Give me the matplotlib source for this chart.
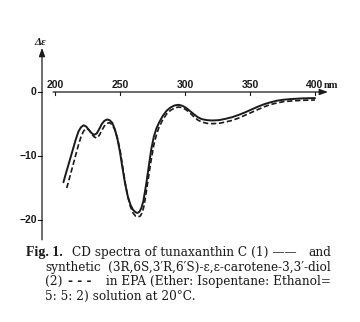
import matplotlib.pyplot as plt

# CD spectra, wavelength (nm) vs delta epsilon
wl_1 = [206.5, 208, 210, 212, 214, 216, 218, 220, 222, 224, 226, 228, 230, 232, 234,
        236, 238, 240, 242, 244, 246, 248, 250, 252, 254, 256, 258, 260, 262, 263.5,
        265, 266.5, 268, 270, 272, 274, 276, 278, 280, 283, 286, 289, 292, 295, 298,
        301, 304, 307, 310, 313, 317, 321, 326, 331, 336, 341, 346, 351, 356, 361,
        366, 371, 376, 382, 390, 400]
de_1 = [-14.1, -13.0, -11.6, -10.2, -8.8, -7.4, -6.2, -5.5, -5.2, -5.4, -5.9, -6.4, -6.7, -6.5, -5.8,
        -5.0, -4.5, -4.3, -4.4, -4.8, -5.8, -7.3, -9.4, -12.0, -14.4, -16.3, -17.6, -18.4, -18.8, -18.9,
        -18.7, -18.1, -17.0, -14.6, -11.8, -9.0, -7.0, -5.7, -4.8, -3.7, -2.9, -2.4, -2.1, -2.0, -2.15,
        -2.5, -3.0, -3.5, -3.95, -4.25, -4.4, -4.45, -4.4, -4.2, -3.95, -3.6, -3.2, -2.75, -2.3, -1.9,
        -1.6, -1.35, -1.2, -1.1, -1.0, -0.95]

wl_2 = [209, 210, 212, 214, 216, 218, 220, 222, 224, 226, 228, 230, 232, 234, 236,
        238, 240, 242, 244, 246, 248, 250, 252, 254, 256, 258, 260, 262, 264, 265.5,
        267, 268.5, 270, 272, 274, 276, 278, 280, 283, 286, 289, 292, 295, 298, 301,
        304, 307, 310, 313, 317, 321, 326, 331, 336, 341, 346, 351, 356, 361, 366,
        371, 376, 382, 390, 400]
de_2 = [-15.0, -14.3, -12.8, -11.3, -9.8, -8.3, -7.0, -6.1, -5.7, -5.9, -6.5, -7.0, -7.2, -6.8, -6.0,
        -5.3, -4.9, -4.8, -5.1, -5.9, -7.2, -9.0, -11.6, -14.2, -16.4, -17.9, -18.9, -19.4, -19.5, -19.4,
        -18.9, -17.8, -15.9, -13.2, -10.6, -8.3, -6.7, -5.5, -4.3, -3.4, -2.85, -2.5, -2.35, -2.45, -2.8,
        -3.3, -3.9, -4.4, -4.7, -4.9, -4.95, -4.9, -4.7, -4.45, -4.1, -3.65, -3.2, -2.75, -2.3, -1.95,
        -1.7, -1.5, -1.4, -1.3, -1.25]

xticks = [200, 250, 300, 350, 400]
yticks = [0, -10, -20]
ytick_labels = ['0', '\u221210', '\u221220']

fig = plt.figure(figsize=(3.6, 3.22), dpi=100)
ax = fig.add_axes([0, 0, 1, 1])
ax.set_xlim(157.69, 434.62)
ax.set_ylim(-35.94, 14.375)
ax.axis('off')

ink = '#1a1a1a'
tick_font = dict(family='Liberation Sans', fontsize=7.5, fontweight='bold', color=ink)

# axes drawn by hand: x axis along zero, y axis at 190 nm
ax.annotate('', xy=(410, 0), xytext=(198.5, 0),
            arrowprops=dict(arrowstyle='-|>,head_length=0.5,head_width=0.18', color=ink, lw=0.9,
                            shrinkA=0, shrinkB=0))
ax.annotate('', xy=(190, 6.9), xytext=(190, -23.1),
            arrowprops=dict(arrowstyle='-|>,head_length=0.5,head_width=0.18', color=ink, lw=0.9,
                            shrinkA=0, shrinkB=0))

for t in xticks:
    ax.plot([t, t], [0, -0.5], color=ink, lw=0.8)
    ax.text(t, 1.15, str(t), ha='center', va='center', **tick_font)
ax.text(406.5, 0.95, 'nm', ha='left', va='center', family='Liberation Serif',
        fontsize=7.5, fontweight='bold', color=ink)

for t, lab in zip(yticks, ytick_labels):
    ax.plot([187, 190], [t, t], color=ink, lw=0.8)
    ax.text(186, t, lab, ha='right', va='center', **tick_font)
ax.text(188.5, 7.8, '\u0394\u03b5', ha='center', va='center', family='Liberation Serif',
        fontsize=8, fontweight='bold', style='italic', color=ink)

ax.plot(wl_1, de_1, color=ink, lw=1.4, solid_capstyle='round')
ax.plot(wl_2, de_2, color=ink, lw=1.2, dashes=(3.2, 1.6))

# caption, justified between x=45 and x=331 px
cap = dict(family='DejaVu Serif', fontsize=8.7, color=ink, va='baseline')
L, R = 45 / 360, 331 / 360
rows = [1 - 256 / 322, 1 - 270.5 / 322, 1 - 285 / 322, 1 - 299.5 / 322]
fig.text(26 / 360, rows[0], 'Fig. 1.', family='Liberation Serif', fontsize=10,
         fontweight='bold', color=ink, va='baseline')
fig.text(72 / 360, rows[0], 'CD spectra of tunaxanthin C (1) \u2014\u2014', **cap)
fig.text(R, rows[0], 'and', ha='right', **cap)
fig.text(L, rows[1], 'synthetic', **cap)
fig.text(R, rows[1], '(3R,6S,3\u2032R,6\u2032S)-\u03b5,\u03b5-carotene-3,3\u2032-diol', ha='right', **cap)
fig.text(L, rows[2], '(2)', **cap)
fig.text(68 / 360, rows[2], '- - -', family='DejaVu Sans', fontsize=8.7,
         fontweight='bold', color=ink, va='baseline')
fig.text(R, rows[2], 'in EPA (Ether: Isopentane: Ethanol=', ha='right', **cap)
fig.text(L, rows[3], '5: 5: 2) solution at 20\u00b0C.', **cap)

fig.savefig('out.png', dpi=100, facecolor='white')
